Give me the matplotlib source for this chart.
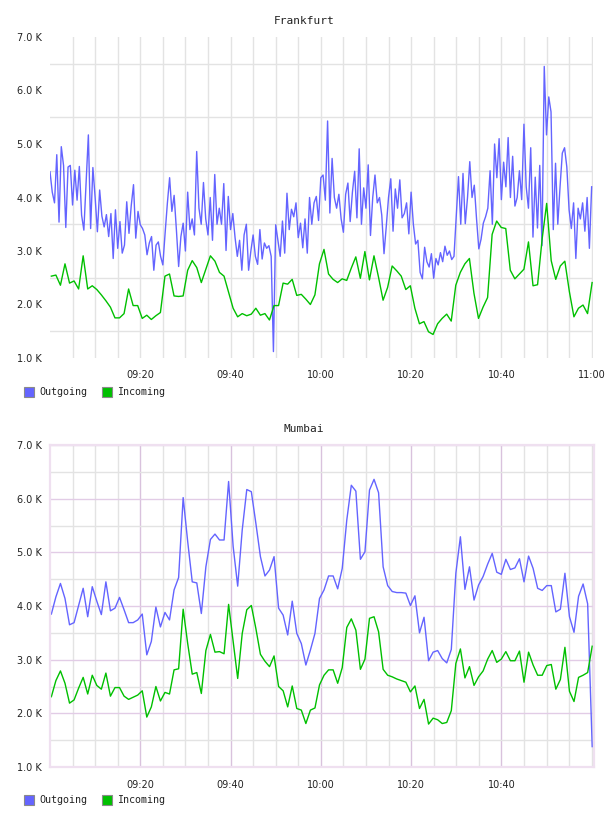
import numpy as np
import matplotlib
matplotlib.use('Agg')
import matplotlib.pyplot as plt
from matplotlib.patches import Rectangle

W, H = 608, 816

# minutes after 09:00
tick_min = [20, 40, 60, 80, 100, 120]
tick_lbl = ['09:20', '09:40', '10:00', '10:20', '10:40', '11:00']
y_lbl = ['1.0 K', '2.0 K', '3.0 K', '4.0 K', '5.0 K', '6.0 K', '7.0 K']

# Frankfurt (K) - outgoing sampled every 30 s, incoming about once a minute
fra_out = [4.48, 4.10, 3.90, 4.80, 3.54, 4.95, 4.60, 3.44, 4.57, 4.60,
           3.86, 4.51, 3.95, 4.58, 3.67, 3.39, 4.30, 5.17, 3.42, 4.56,
           4.00, 3.36, 4.14, 3.65, 3.45, 3.68, 3.27, 3.70, 2.86, 3.77,
           3.05, 3.55, 2.96, 3.11, 3.92, 3.33, 3.85, 4.24, 3.24, 3.74,
           3.49, 3.42, 3.30, 2.93, 3.15, 3.27, 2.64, 3.11, 3.17, 2.90,
           2.74, 3.33, 3.89, 4.37, 3.74, 4.04, 3.40, 2.71, 3.27, 3.52,
           3.00, 4.10, 3.40, 3.60, 3.30, 4.86, 3.80, 3.50, 4.28, 3.60,
           3.30, 4.00, 3.20, 4.43, 3.50, 3.80, 3.50, 4.26, 3.01, 4.02,
           3.40, 3.70, 3.25, 2.90, 3.20, 2.64, 3.30, 3.50, 2.64, 3.00,
           3.30, 2.90, 2.75, 3.40, 2.85, 3.15, 3.05, 3.10, 2.90, 1.12,
           3.49, 3.20, 2.90, 3.56, 2.96, 4.08, 3.40, 3.78, 3.64, 3.90,
           3.25, 3.52, 3.06, 3.60, 2.96, 4.00, 3.50, 3.90, 4.02, 3.57,
           4.37, 4.42, 3.95, 5.43, 3.71, 4.73, 4.00, 3.80, 4.06, 3.60,
           3.35, 4.06, 4.27, 3.55, 4.10, 4.49, 3.62, 4.91, 3.50, 4.18,
           3.80, 4.61, 3.29, 4.00, 4.42, 3.90, 4.00, 3.67, 2.95, 3.46,
           4.00, 4.35, 3.37, 4.16, 3.80, 4.33, 3.62, 3.70, 3.90, 3.32,
           4.10, 3.50, 3.13, 3.20, 2.60, 2.48, 3.07, 2.80, 2.70, 2.95,
           2.49, 2.86, 2.74, 2.97, 2.80, 3.09, 2.92, 3.00, 2.84, 2.90,
           3.63, 4.39, 3.50, 4.45, 3.51, 4.00, 4.67, 4.00, 4.23, 3.60,
           3.04, 3.22, 3.52, 3.64, 3.80, 4.50, 3.50, 5.00, 4.37, 5.10,
           3.96, 4.66, 4.20, 5.12, 4.00, 4.77, 3.84, 4.00, 4.50, 3.96,
           5.37, 4.20, 3.80, 4.93, 3.26, 4.38, 3.43, 4.60, 3.10, 6.45,
           5.17, 5.88, 5.60, 3.40, 4.64, 3.50, 4.20, 4.83, 4.93, 4.57,
           3.77, 3.42, 3.90, 2.86, 3.80, 3.60, 3.90, 3.37, 4.00, 3.05,
           4.20]
fra_in = [2.53, 2.55, 2.36, 2.76, 2.40, 2.44, 2.29, 2.91, 2.29, 2.35,
          2.28, 2.18, 2.07, 1.95, 1.75, 1.75, 1.83, 2.29, 1.98, 1.98,
          1.74, 1.80, 1.72, 1.79, 1.85, 2.53, 2.57, 2.16, 2.15, 2.16,
          2.64, 2.82, 2.69, 2.41, 2.66, 2.91, 2.81, 2.60, 2.53, 2.23,
          1.93, 1.77, 1.83, 1.79, 1.82, 1.93, 1.80, 1.83, 1.71, 1.98,
          1.98, 2.40, 2.38, 2.47, 2.17, 2.19, 2.10, 2.00, 2.18, 2.76,
          3.03, 2.57, 2.47, 2.41, 2.48, 2.45, 2.68, 2.89, 2.49, 2.99,
          2.46, 2.91, 2.51, 2.08, 2.32, 2.72, 2.63, 2.53, 2.28, 2.35,
          1.93, 1.64, 1.68, 1.49, 1.44, 1.64, 1.74, 1.82, 1.69, 2.36,
          2.60, 2.76, 2.86, 2.21, 1.74, 1.95, 2.13, 3.31, 3.56, 3.44,
          3.42, 2.64, 2.48, 2.57, 2.66, 3.17, 2.35, 2.37, 3.22, 3.89,
          2.82, 2.47, 2.72, 2.81, 2.24, 1.77, 1.93, 1.99, 1.83, 2.41]

# Mumbai (K), once a minute
mum_out = [3.85, 4.17, 4.42, 4.14, 3.65, 3.69, 4.01, 4.33, 3.80, 4.36,
           4.09, 3.84, 4.45, 3.91, 3.96, 4.16, 3.93, 3.69, 3.69, 3.74,
           3.85, 3.09, 3.34, 3.98, 3.61, 3.88, 3.74, 4.30, 4.53, 6.02,
           5.20, 4.45, 4.43, 3.86, 4.73, 5.24, 5.34, 5.23, 5.23, 6.32,
           5.11, 4.37, 5.42, 6.17, 6.13, 5.54, 4.92, 4.56, 4.67, 4.92,
           3.96, 3.83, 3.46, 4.09, 3.49, 3.30, 2.90, 3.18, 3.49, 4.14,
           4.30, 4.56, 4.56, 4.32, 4.70, 5.60, 6.25, 6.14, 4.87, 5.01,
           6.16, 6.36, 6.11, 4.73, 4.38, 4.27, 4.25, 4.25, 4.24, 4.01,
           4.19, 3.50, 3.79, 2.98, 3.14, 3.17, 3.02, 2.94, 3.19, 4.61,
           5.29, 4.31, 4.73, 4.11, 4.39, 4.55, 4.78, 4.98, 4.63, 4.59,
           4.87, 4.68, 4.71, 4.88, 4.45, 4.93, 4.70, 4.33, 4.29, 4.38,
           4.38, 3.89, 3.94, 4.61, 3.80, 3.51, 4.18, 4.41, 4.04, 1.38]
mum_in = [2.31, 2.61, 2.79, 2.56, 2.19, 2.25, 2.47, 2.67, 2.36, 2.71,
          2.52, 2.45, 2.75, 2.32, 2.48, 2.48, 2.32, 2.26, 2.30, 2.34,
          2.42, 1.93, 2.12, 2.50, 2.23, 2.39, 2.36, 2.81, 2.83, 3.94,
          3.30, 2.73, 2.76, 2.37, 3.17, 3.47, 3.14, 3.15, 3.11, 4.03,
          3.34, 2.65, 3.49, 3.93, 4.01, 3.58, 3.10, 2.97, 2.87, 3.07,
          2.50, 2.42, 2.12, 2.51, 2.09, 2.06, 1.81, 2.06, 2.10, 2.53,
          2.71, 2.81, 2.81, 2.56, 2.85, 3.60, 3.76, 3.55, 2.82, 3.01,
          3.77, 3.80, 3.52, 2.82, 2.71, 2.68, 2.64, 2.61, 2.58, 2.40,
          2.51, 2.09, 2.26, 1.80, 1.91, 1.88, 1.81, 1.83, 2.05, 2.93,
          3.20, 2.66, 2.87, 2.52, 2.68, 2.79, 3.01, 3.17, 2.95, 3.01,
          3.15, 2.98, 2.98, 3.16, 2.58, 3.14, 2.90, 2.71, 2.71, 2.89,
          2.91, 2.45, 2.63, 3.23, 2.41, 2.22, 2.67, 2.71, 2.76, 3.25]

BLUE = '#6464ff'
GREEN = '#00c000'
GRAY = '#e3e3e3'
PINK = '#e2cce6'
PINK_V = '#d9c2dd'


def px_axes(fig, x0, y0, x1, y1):
    return fig.add_axes([x0 / W, 1 - y1 / H, (x1 - x0) / W, (y1 - y0) / H])


def times(vals, t0=0.3, t1=120.1):
    return np.linspace(t0, t1, len(vals))


def style(ax, xmax, title, ticks, labels, pink):
    ax.set_xlim(0, xmax)
    ax.set_ylim(1, 7)
    ax.set_yticks(range(1, 8))
    ax.set_yticklabels(y_lbl)
    ax.set_yticks(np.arange(1.5, 7, 0.5) if pink else np.arange(1.5, 7, 1.0), minor=True)
    ax.set_xticks(ticks)
    ax.set_xticklabels(labels)
    ax.set_xticks([m for m in range(5, 121, 5) if m not in ticks], minor=True)
    ax.tick_params(which='both', length=0, labelsize=7, colors='#222222')
    ax.tick_params(axis='y', pad=6)
    ax.tick_params(axis='x', pad=9)
    if pink:
        ax.grid(True, which='major', color=PINK, lw=1.0)
        ax.grid(True, which='minor', color=GRAY, lw=1.0)
        ax.xaxis.grid(True, which='major', color=PINK_V, lw=1.0)
        for s in ax.spines.values():
            s.set_color('#efe0f0')
            s.set_linewidth(1.6)
    else:
        ax.yaxis.grid(True, which='minor', color=GRAY, lw=1.0)
        ax.yaxis.grid(False, which='major')
        ax.xaxis.grid(True, which='both', color=GRAY, lw=1.0)
        for s in ax.spines.values():
            s.set_visible(False)
    ax.set_axisbelow(True)
    # title is centred on the whole image, not on the plot area
    bb = ax.get_position()
    ax.set_title(title, fontsize=8, family='DejaVu Sans Mono', color='#222222',
                 pad=9, x=(0.5 - bb.x0) / bb.width)


def legend(fig, ytop):
    for x, c, name in [(24, BLUE, 'Outgoing'), (102, GREEN, 'Incoming')]:
        fig.patches.append(Rectangle((x / W, 1 - (ytop + 10) / H), 10 / W, 10 / H,
                                     transform=fig.transFigure, facecolor=c,
                                     edgecolor='#8a8a8a', lw=0.8))
        fig.text((x + 15) / W, 1 - (ytop + 5) / H, name, fontsize=7.2,
                 family='DejaVu Sans Mono', va='center', ha='left', color='#222222')


fig = plt.figure(figsize=(W / 100, H / 100), dpi=100)

ax1 = px_axes(fig, 50, 37, 593, 358)
ax1.plot(times(fra_out, 0.0, 120.0), fra_out, color=BLUE, lw=1.0)
ax1.plot(times(fra_in), fra_in, color=GREEN, lw=1.0)
style(ax1, 120.3, 'Frankfurt', tick_min, tick_lbl, False)
legend(fig, 387)

ax2 = px_axes(fig, 50, 445, 594, 767)
ax2.plot(times(mum_out), mum_out, color=BLUE, lw=1.0)
ax2.plot(times(mum_in), mum_in, color=GREEN, lw=1.0)
style(ax2, 120.5, 'Mumbai', tick_min[:-1], tick_lbl[:-1], True)
legend(fig, 795)

fig.savefig('out.png', dpi=100, facecolor='white')
